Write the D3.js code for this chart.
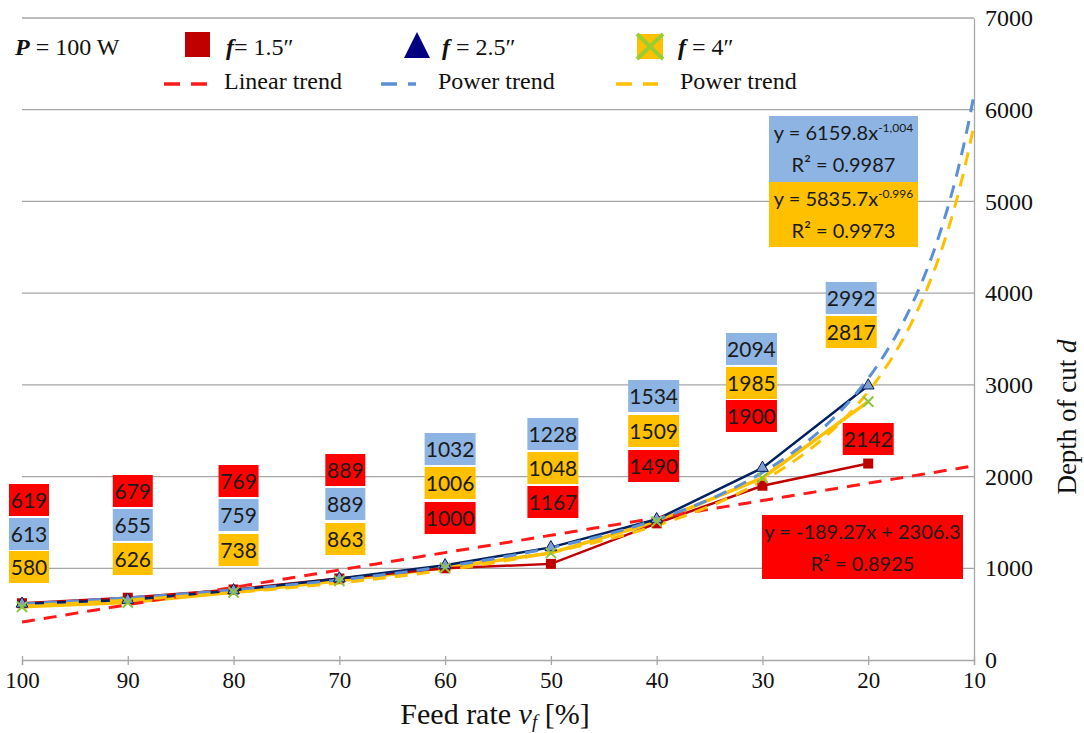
<!DOCTYPE html>
<html><head><meta charset="utf-8">
<script src="https://cdn.jsdelivr.net/npm/d3@7"></script>
<style>body{margin:0;background:#fff} svg{display:block}
.serif{font-family:"Liberation Serif","Times New Roman",Tinos,"DejaVu Serif",serif}</style>
</head><body>
<svg id="c" width="1084" height="733"></svg>
<script>
// ---- data ----
const feedRates = [100, 90, 80, 70, 60, 50, 40, 30, 20];
const xTickValues = [100, 90, 80, 70, 60, 50, 40, 30, 20, 10];
const yTickValues = [0, 1000, 2000, 3000, 4000, 5000, 6000, 7000];
const depthF15 = [619, 679, 769, 889, 1000, 1048, 1490, 1900, 2142];
const depthF25 = [613, 655, 759, 889, 1032, 1228, 1534, 2094, 2992];
const depthF4  = [580, 626, 738, 863, 1006, 1167, 1509, 1985, 2817];
const labelsF15 = [619, 679, 769, 889, 1000, 1167, 1490, 1900, 2142];
const labelsF25 = [613, 655, 759, 889, 1032, 1228, 1534, 2094, 2992];
const labelsF4  = [580, 626, 738, 863, 1006, 1048, 1509, 1985, 2817];
const linearTrendF15 = [-189.27, 2306.3];   // slope, intercept (x = vf/10)
const powerTrendF25 = [6159.8, -1.004];     // coef, exponent
const powerTrendF4  = [5835.7, -0.996];
const r2Values = [0.8925, 0.9987, 0.9973];

// ---- layout (positions of annotation boxes, px) ----
const labelTops = [ // [f1.5, f2.5, f4]
  [484, 518, 551], [475, 509, 543], [465, 499, 534], [454, 488, 523],
  [502, 433, 467], [486, 418, 452], [450, 380, 415], [400, 333, 367], [423, 282, 316]];
const labelDx = [[7,7,7],[5,5,5],[5,5,5],[6,6,6],[5,5,5],[2,2,2],[-3,-3,-3],[-11,-11,-11],[0,-17,-17]];

const svg = d3.select('#c');
const x = d3.scaleLinear().domain([100, 10]).range([22, 974]);
const y = d3.scaleLinear().domain([0, 7000]).range([660, 18]);

const C = {red:'#C00000', navy:'#002060', orange:'#FFC000', green:'#8CC63F',
  tRed:'#FF1A1A', tBlue:'#5B8FD6', tOrange:'#FFC000',
  bRed:'#FF0000', bBlue:'#8DB4E2', bOrange:'#FFC000', grid:'#A6A6A6'};

// gridlines
svg.append('g').selectAll('line').data(yTickValues.filter(d => d > 0)).join('line')
  .attr('x1', x(100)).attr('x2', x(10)).attr('y1', d => y(d)).attr('y2', d => y(d))
  .attr('stroke', C.grid).attr('stroke-width', 1.3);

// x axis
const gx = svg.append('g').attr('transform', `translate(0,${y(0)})`)
  .call(d3.axisBottom(x).tickValues(xTickValues).tickSize(5).tickPadding(18).tickFormat(d3.format('d')));
gx.attr('font-family', null).attr('font-size', null);
gx.select('.domain').attr('stroke', C.grid).attr('stroke-width', 1.3);
gx.selectAll('.tick line').attr('stroke', C.grid).attr('y1', -4).attr('y2', 5).attr('stroke-width', 1.3);
gx.selectAll('.tick text').attr('class', 'serif').attr('font-size', 23).attr('fill', '#111').attr('dy', '0.2em');

// y axis (right)
const gy = svg.append('g').attr('transform', `translate(${x(10)},0)`)
  .call(d3.axisRight(y).tickValues(yTickValues).tickSize(0).tickPadding(11).tickFormat(d3.format('d')));
gy.attr('font-family', null).attr('font-size', null);
gy.select('.domain').attr('stroke', C.grid).attr('stroke-width', 1.3);
gy.selectAll('.tick text').attr('class', 'serif').attr('font-size', 24).attr('fill', '#111');

// axis titles
const xt = svg.append('text').attr('class', 'serif').attr('x', 495).attr('y', 724).attr('text-anchor', 'middle')
  .attr('font-size', 30).attr('fill', '#111');
xt.append('tspan').text('Feed rate ');
xt.append('tspan').attr('font-style', 'italic').text('v');
xt.append('tspan').attr('font-style', 'italic').attr('font-size', 19).attr('dy', 4).text('f');
xt.append('tspan').attr('dy', -4).text(' [%]');

const yt = svg.append('text').attr('class', 'serif').attr('transform', 'translate(1076,417) rotate(-90)').attr('text-anchor', 'middle')
  .attr('font-size', 27).attr('fill', '#111');
yt.append('tspan').text('Depth of cut ');
yt.append('tspan').attr('font-style', 'italic').text('d');

// series lines
const line = d3.line().x((d, i) => x(feedRates[i])).y(d => y(d));
svg.append('path').attr('d', line(depthF4)).attr('fill', 'none').attr('stroke', C.orange).attr('stroke-width', 3.5);
svg.append('path').attr('d', line(depthF15)).attr('fill', 'none').attr('stroke', C.red).attr('stroke-width', 2.5);
svg.append('path').attr('d', line(depthF25)).attr('fill', 'none').attr('stroke', C.navy).attr('stroke-width', 2.5);

// trend curves (from the displayed equations)
const vs = d3.range(100, 9.5, -0.5);
const tl = d3.line().x(d => x(d[0])).y(d => y(d[1]));
svg.append('path').attr('d', tl(vs.map(v => [v, linearTrendF15[0] * v / 10 + linearTrendF15[1]])))
  .attr('fill', 'none').attr('stroke', C.tRed).attr('stroke-width', 3).attr('stroke-dasharray', '13,9');
svg.append('path').attr('d', tl(vs.map(v => [v, powerTrendF25[0] * Math.pow(v / 10, powerTrendF25[1])])))
  .attr('fill', 'none').attr('stroke', C.tBlue).attr('stroke-width', 3).attr('stroke-dasharray', '13,9');
svg.append('path').attr('d', tl(vs.map(v => [v, powerTrendF4[0] * Math.pow(v / 10, powerTrendF4[1])])))
  .attr('fill', 'none').attr('stroke', C.tOrange).attr('stroke-width', 3).attr('stroke-dasharray', '13,9');

// markers
svg.append('g').selectAll('rect').data(depthF15).join('rect')
  .attr('x', (d, i) => x(feedRates[i]) - 5).attr('y', d => y(d) - 5).attr('width', 10).attr('height', 10).attr('fill', C.red);
svg.append('g').selectAll('path').data(depthF25).join('path')
  .attr('d', d3.symbol(d3.symbolTriangle, 60)).attr('transform', (d, i) => `translate(${x(feedRates[i])},${y(d)})`)
  .attr('fill', '#7F9FCF').attr('stroke', C.navy).attr('stroke-width', 1);
svg.append('g').selectAll('path').data(depthF4).join('path')
  .attr('d', d3.symbol(d3.symbolX, 70)).attr('transform', (d, i) => `translate(${x(feedRates[i])},${y(d)})`)
  .attr('fill', 'none').attr('stroke', C.green).attr('stroke-width', 2);

// data label boxes
const font = 'Lato, "Open Sans", sans-serif';
const series = [[labelsF15, C.bRed], [labelsF25, C.bBlue], [labelsF4, C.bOrange]];
const lg = svg.append('g');
feedRates.forEach((v, i) => {
  series.forEach(([vals, col], s) => {
    const txt = String(vals[i]);
    const w = txt.length === 3 ? 40 : 51;
    const cx = x(v) + labelDx[i][s];
    const top = labelTops[i][s];
    lg.append('rect').attr('x', cx - w / 2).attr('y', top).attr('width', w).attr('height', 32).attr('fill', col);
    lg.append('text').attr('x', cx).attr('y', top + 24).attr('text-anchor', 'middle')
      .attr('font-family', font).attr('font-size', 21).attr('fill', '#1a1a1a').text(txt);
  });
});

// equation boxes
function eqBox(x0, y0, w, h, col, coef, expo, r2, power) {
  const g = svg.append('g');
  g.append('rect').attr('x', x0).attr('y', y0).attr('width', w).attr('height', h).attr('fill', col);
  const t1 = g.append('text').attr('x', x0 + w / 2).attr('y', y0 + 24).attr('text-anchor', 'middle')
    .attr('font-family', font).attr('font-size', 20).attr('fill', '#1a1a1a');
  if (power) {
    t1.append('tspan').text('y = ' + coef + 'x');
    t1.append('tspan').attr('font-size', 12).attr('dy', -8).text(expo);
  } else {
    t1.append('tspan').text('y = ' + coef + 'x + ' + expo);
  }
  g.append('text').attr('x', x0 + w / 2).attr('y', y0 + 56).attr('text-anchor', 'middle')
    .attr('font-family', font).attr('font-size', 20).attr('fill', '#1a1a1a').text('R² = ' + r2);
}
eqBox(769, 116, 149, 66, C.bBlue, powerTrendF25[0], '-1,004', r2Values[1], true);
eqBox(769, 182, 149, 65, C.bOrange, powerTrendF4[0], '-0.996', r2Values[2], true);
eqBox(762, 515, 201, 64, C.bRed, linearTrendF15[0], linearTrendF15[1], r2Values[0], false);

// legend
const L = svg.append('g').attr('class', 'serif').attr('font-size', 24).attr('fill', '#111');
const p = L.append('text').attr('x', 15).attr('y', 55);
p.append('tspan').attr('font-weight', 'bold').attr('font-style', 'italic').text('P');
p.append('tspan').text(' = 100 W');
function fLabel(xp, val, sep) {
  const t = L.append('text').attr('x', xp).attr('y', 55);
  t.append('tspan').attr('font-weight', 'bold').attr('font-style', 'italic').text('f');
  t.append('tspan').text(sep + '= ' + val + '″');
}
L.append('rect').attr('x', 185).attr('y', 32).attr('width', 25).attr('height', 25).attr('fill', C.red);
fLabel(226, '1.5', '');
L.append('path').attr('d', 'M404,58 L417,32 L430,58 Z').attr('fill', '#000080');
fLabel(442, '2.5', ' ');
L.append('rect').attr('x', 637).attr('y', 34).attr('width', 26).attr('height', 25).attr('fill', C.orange);
L.append('path').attr('d', 'M637,34 L663,59 M663,34 L637,59').attr('stroke', '#9ACD32').attr('stroke-width', 4);
fLabel(678, '4', ' ');
function dashLeg(x1, x2, col, label, tx) {
  L.append('line').attr('x1', x1).attr('x2', x2).attr('y1', 84).attr('y2', 84)
    .attr('stroke', col).attr('stroke-width', 3.5).attr('stroke-dasharray', '16,11');
  L.append('text').attr('x', tx).attr('y', 89).text(label);
}
dashLeg(164, 207, C.tRed, 'Linear trend', 224);
dashLeg(381, 416, C.tBlue, 'Power trend', 438);
dashLeg(616, 658, C.tOrange, 'Power trend', 680);
</script>
</body></html>
